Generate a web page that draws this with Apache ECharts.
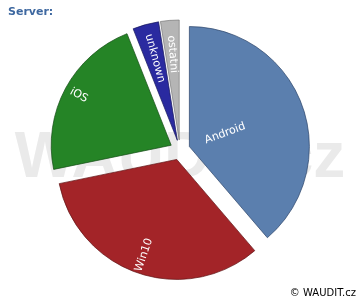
<!DOCTYPE html>
<html>
<head>
<meta charset="utf-8">
<script src="https://cdn.jsdelivr.net/npm/echarts@6/dist/echarts.min.js"></script>
<style>
  html, body { margin: 0; padding: 0; background: #fff; }
  #chart { width: 360px; height: 300px; }
</style>
</head>
<body>
<div id="chart"></div>
<script>
// podíl OS na serveru (%)
var names = ['Android', 'Win10', 'iOS', 'unknown', 'ostatni'];
var values = [38.7, 33.0, 22.2, 3.5, 2.5];
var colors = ['#5b7fae', '#a32428', '#258426', '#2a2aa0', '#b5b5b5'];
var borders = ['#2b4468', '#5e1214', '#134a14', '#15155a', '#7a7a7a'];
// posun popisku podél poloměru
var labelPad = [50, 76, 84, 44, 46];

var myChart = echarts.init(document.getElementById('chart'));

var pieData = names.map(function (n, i) {
  return {
    name: n,
    value: values[i],
    selected: true,
    itemStyle: { color: colors[i], borderColor: borders[i], borderWidth: 0.7 },
    label: { padding: [0, labelPad[i], 0, 0] }
  };
});

var option = {
  animation: false,
  title: {
    text: 'Server:',
    left: 3,
    top: 2,
    textStyle: { fontSize: 11, fontWeight: 'bold', color: '#3e68a0', fontFamily: 'DejaVu Sans' }
  },
  graphic: [
    {
      type: 'text',
      left: 'center',
      top: 127,
      z: -10,
      silent: true,
      style: {
        text: 'WAUDIT.cz',
        font: 'bold 64px "Liberation Sans", Arial, sans-serif',
        fill: '#eaeaea'
      }
    },
    {
      type: 'text',
      right: 4,
      bottom: 2,
      style: {
        text: '© WAUDIT.cz',
        font: '10px "DejaVu Sans", sans-serif',
        fill: '#000'
      }
    }
  ],
  series: [
    {
      type: 'pie',
      center: ['50%', '50%'],
      radius: 120,
      startAngle: 90,
      clockwise: true,
      selectedMode: 'multiple',
      selectedOffset: 10,
      avoidLabelOverlap: false,
      emphasis: { disabled: true },
      label: {
        show: true,
        position: 'inside',
        rotate: 'radial',
        color: '#fff',
        fontSize: 11,
        fontFamily: 'DejaVu Sans'
      },
      labelLine: { show: false },
      data: pieData
    }
  ]
};

myChart.setOption(option);
</script>
</body>
</html>
